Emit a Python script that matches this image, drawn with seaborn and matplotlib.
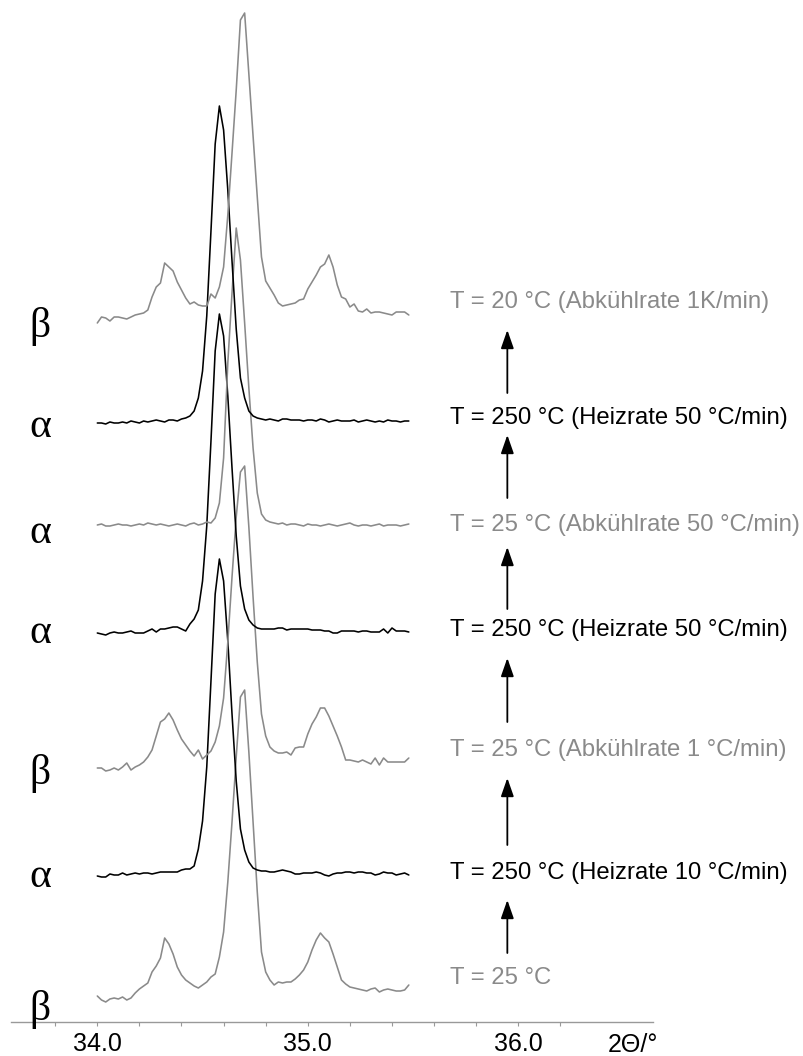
import numpy as np
import pandas as pd
import matplotlib
matplotlib.use("Agg")
import matplotlib.pyplot as plt
import seaborn as sns

# 2-theta scan grid (step 0.02 deg)
two_theta = np.linspace(34.00, 35.48, 75)

# intensities (a.u.) of the seven scans, bottom to top
beta_25 = [6, 2, 0, 3, 4, 3, 5, 2, 4, 9, 13, 16, 19, 30, 36, 44, 64, 58, 48, 35,
           27, 22, 19, 16, 14, 17, 20, 25, 28, 45, 70, 120, 180, 245, 305, 312, 250, 180, 110, 50,
           30, 22, 17, 20, 19, 20, 20, 23, 27, 32, 40, 52, 62, 69, 64, 60, 48, 35, 22, 18,
           15, 14, 13, 12, 11, 13, 14, 10, 12, 13, 12, 11, 11, 12, 17]
alpha_250_h10 = [3, 2, 2, 5, 4, 4, 6, 4, 5, 6, 5, 6, 6, 5, 6, 7, 7, 7, 7, 7,
                 9, 10, 10, 13, 30, 58, 112, 198, 285, 320, 298, 238, 165, 98, 50, 29, 17, 11, 9, 8,
                 8, 7, 7, 8, 9, 8, 7, 5, 5, 6, 6, 6, 7, 6, 4, 3, 5, 6, 6, 7,
                 7, 6, 7, 7, 6, 6, 4, 5, 7, 6, 6, 4, 5, 6, 4]
beta_25_c1 = [4, 4, 1, 2, 4, 2, 5, 9, 2, 5, 7, 10, 15, 22, 36, 50, 53, 59, 52, 42,
              33, 27, 21, 16, 22, 13, 17, 21, 30, 46, 74, 130, 195, 255, 300, 306, 245, 175, 110, 58,
              36, 25, 21, 19, 19, 20, 17, 24, 25, 25, 38, 48, 55, 64, 64, 56, 46, 36, 25, 12,
              12, 11, 10, 12, 10, 8, 14, 7, 14, 10, 10, 10, 10, 10, 14]
alpha_250_h50a = [3, 2, 1, 3, 4, 3, 3, 4, 5, 3, 3, 3, 5, 7, 4, 7, 7, 8, 9, 9,
                  7, 5, 12, 17, 26, 55, 110, 195, 285, 322, 300, 240, 168, 100, 50, 27, 16, 11, 8, 7,
                  7, 7, 7, 8, 8, 6, 7, 7, 7, 7, 7, 6, 6, 6, 5, 5, 3, 3, 5, 5,
                  5, 5, 4, 5, 5, 4, 4, 4, 7, 3, 8, 5, 5, 5, 4]
alpha_25_c50 = [3, 4, 2, 2, 3, 4, 3, 3, 2, 3, 4, 3, 5, 4, 3, 4, 3, 2, 3, 4,
                3, 2, 4, 5, 3, 4, 6, 5, 10, 25, 70, 165, 235, 300, 268, 205, 140, 80, 35, 14,
                8, 6, 5, 4, 5, 3, 4, 4, 3, 2, 4, 3, 3, 2, 3, 4, 3, 2, 3, 4,
                5, 3, 2, 3, 3, 2, 3, 4, 2, 3, 3, 3, 2, 3, 4]
alpha_250_h50b = [3, 3, 2, 4, 3, 3, 4, 3, 5, 4, 3, 5, 4, 5, 6, 5, 4, 6, 6, 5,
                  7, 8, 10, 15, 28, 55, 110, 195, 282, 320, 296, 236, 165, 97, 48, 28, 15, 10, 8, 7,
                  6, 7, 6, 5, 7, 7, 6, 6, 6, 5, 6, 6, 5, 7, 6, 4, 5, 6, 5, 5,
                  5, 6, 4, 5, 6, 5, 4, 5, 4, 6, 5, 5, 4, 5, 5]
beta_20_c1 = [2, 8, 7, 4, 8, 8, 7, 6, 8, 10, 11, 12, 15, 28, 38, 42, 62, 58, 54, 43,
              35, 27, 21, 23, 20, 19, 19, 31, 27, 38, 58, 110, 172, 235, 305, 312, 251, 189, 128, 68,
              44, 37, 30, 22, 19, 20, 21, 22, 25, 26, 36, 43, 50, 58, 61, 70, 58, 40, 28, 26,
              18, 21, 14, 13, 16, 12, 13, 13, 12, 11, 10, 13, 13, 13, 10]

scans = [beta_25, alpha_250_h10, beta_25_c1, alpha_250_h50a,
         alpha_25_c50, alpha_250_h50b, beta_20_c1]
scan_ids = ["s1", "s2", "s3", "s4", "s5", "s6", "s7"]
phases = ["β", "α", "β", "α", "α", "α", "β"]
conditions = [
    "T = 25 °C",
    "T = 250 °C (Heizrate 10 °C/min)",
    "T = 25 °C (Abkühlrate 1 °C/min)",
    "T = 250 °C (Heizrate 50 °C/min)",
    "T = 25 °C (Abkühlrate 50 °C/min)",
    "T = 250 °C (Heizrate 50 °C/min)",
    "T = 20 °C (Abkühlrate 1K/min)",
]
x_ticks = [34.0, 35.0, 36.0]
x_tick_labels = ["34.0", "35.0", "36.0"]

# stacking offsets and annotation layout (data units)
offsets = [20, 143, 250, 386, 494, 596, 697]
label_y = [44, 149, 272, 392, 497, 604, 720]
phase_y = [2, 135, 238, 379, 479, 585, 685]
arrow_spans = [(69, 122), (177, 244), (300, 364), (413, 475), (524, 587), (629, 692)]

GRAY = "#8a8a8a"
colors = [GRAY if i % 2 == 0 else "black" for i in range(7)]

rows = []
for sid, vals, off in zip(scan_ids, scans, offsets):
    assert len(vals) == len(two_theta)
    for x, v in zip(two_theta, vals):
        rows.append({"two_theta": x, "y": v + off, "scan": sid})
df = pd.DataFrame(rows)

sns.set_theme(style="white")
plt.rcParams["font.family"] = ["Liberation Sans", "DejaVu Sans"]

fig = plt.figure(figsize=(8.04, 10.56), dpi=100)
ax = fig.add_axes([11 / 804, 34 / 1056, (653 - 11) / 804, 1022 / 1056])
ax.set_facecolor("none")

sns.lineplot(data=df, x="two_theta", y="y", hue="scan",
             palette=dict(zip(scan_ids, colors)), estimator=None, sort=False,
             legend=False, linewidth=1.15, ax=ax)

ax.set_xlim(33.59, 36.64)
ax.set_ylim(0, 1022)
ax.set_xlabel("")
ax.set_ylabel("")
ax.set_yticks([])
for side in ["left", "top", "right"]:
    ax.spines[side].set_visible(False)
ax.spines["bottom"].set_color("#999999")
ax.spines["bottom"].set_linewidth(1.0)

ax.set_xticks(x_ticks)
ax.set_xticklabels(x_tick_labels)
ax.set_xticks(np.arange(33.8, 36.21, 0.2), minor=True)
ax.tick_params(axis="x", which="both", direction="out", length=3, width=0.8,
               color="#999999", bottom=True)
ax.tick_params(axis="x", which="major", labelsize=18, pad=4, labelcolor="black")

ax.text(36.546, -23, "2Θ/°", fontsize=18, ha="center", va="center",
        color="black", clip_on=False)

# phase labels (left) and measurement conditions (right)
for ph, yb in zip(phases, phase_y):
    ax.text(33.729, yb, ph, fontsize=30, family="Liberation Serif",
            ha="center", va="baseline", color="black", clip_on=False)

for txt, yl, c in zip(conditions, label_y, colors):
    ax.text(35.677, yl, txt, fontsize=17.2, ha="left", va="center",
            color=c, clip_on=False)

for tail, tip in arrow_spans:
    ax.annotate("", xy=(35.948, tip), xytext=(35.948, tail),
                arrowprops=dict(arrowstyle="-|>,head_length=0.8,head_width=0.28",
                                mutation_scale=14, color="black", lw=1.3,
                                shrinkA=0, shrinkB=0))

fig.savefig("out.png", dpi=100)
